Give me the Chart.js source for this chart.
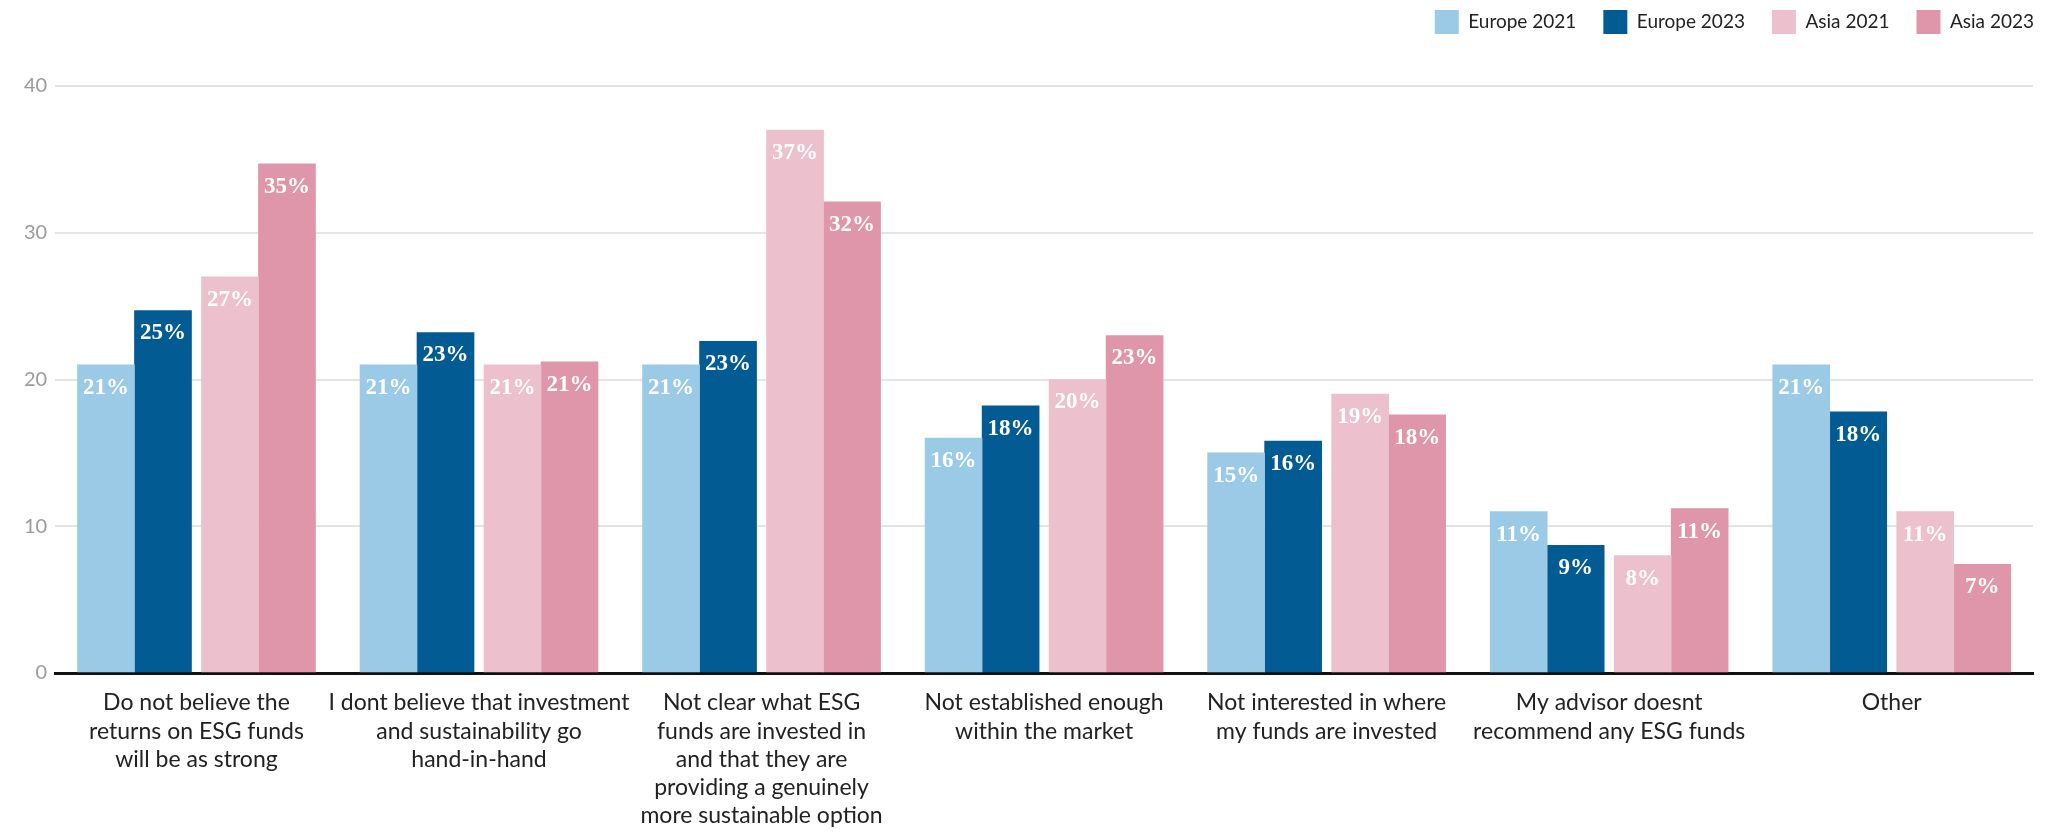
<!DOCTYPE html>
<html>
<head>
<meta charset="utf-8">
<script src="https://cdn.jsdelivr.net/npm/chart.js@4.4.1/dist/chart.umd.min.js"></script>
<style>
  html, body { margin: 0; padding: 0; background: #fff; }
  #wrap { width: 2056px; height: 833px; position: relative; }
</style>
</head>
<body>
<div id="wrap"><canvas id="esgChart"></canvas></div>
<script>
// Reasons for not investing in ESG funds (% of respondents)
const categories = [
  ['Do not believe the', 'returns on ESG funds', 'will be as strong'],
  ['I dont believe that investment', 'and sustainability go', 'hand-in-hand'],
  ['Not clear what ESG', 'funds are invested in', 'and that they are', 'providing a genuinely', 'more sustainable option'],
  ['Not established enough', 'within the market'],
  ['Not interested in where', 'my funds are invested'],
  ['My advisor doesnt', 'recommend any ESG funds'],
  ['Other']
];
const seriesNames = ['Europe 2021', 'Europe 2023', 'Asia 2021', 'Asia 2023'];
const europe2021 = [21, 21, 21, 16, 15, 11, 21];
const europe2023 = [24.7, 23.2, 22.6, 18.2, 15.8, 8.7, 17.8];
const asia2021 = [27, 21, 37, 20, 19, 8, 11];
const asia2023 = [34.7, 21.2, 32.1, 23, 17.6, 11.2, 7.4];
const yTicks = [0, 10, 20, 30, 40];

const colors = ['#9acae6', '#025b92', '#ecc0cd', '#e096aa'];
const FONT = 'Lato';

// bars are 57px wide, Europe pair and Asia pair touch, with a 10px gap between pairs.
// chart.js spaces grouped bars evenly, so give each dataset its own slot size
// (barThickness) and clamp the drawn width with maxBarThickness.
const BAR_W = 57;
const PAIR_GAP = 10;
function slotFor(idx) {
  const inner = PAIR_GAP / 2 + BAR_W / 2;
  const outer = PAIR_GAP / 2 + BAR_W * 1.5;
  const dist = (idx === 0 || idx === 3) ? outer : inner;
  const k = Math.abs(idx - 1.5); // 1.5 or 0.5 slots from centre
  return dist / k;
}

const allSeries = [europe2021, europe2023, asia2021, asia2023];

const datasets = allSeries.map((data, i) => ({
  label: seriesNames[i],
  data: data,
  backgroundColor: colors[i],
  borderWidth: 0,
  barThickness: slotFor(i),
  maxBarThickness: BAR_W
}));

// white rounded % labels inside the top of each bar
const valueLabels = {
  id: 'valueLabels',
  afterDatasetsDraw(chart) {
    const ctx = chart.ctx;
    ctx.save();
    ctx.fillStyle = '#ffffff';
    ctx.font = 'bold 23px "Liberation Serif"';
    ctx.textAlign = 'center';
    ctx.textBaseline = 'middle';
    chart.data.datasets.forEach((ds, di) => {
      const meta = chart.getDatasetMeta(di);
      meta.data.forEach((bar, j) => {
        ctx.fillText(Math.round(ds.data[j]) + '%', bar.x, bar.y + 23);
      });
    });
    ctx.restore();
  }
};

// extra room under the legend
const legendGap = {
  id: 'legendGap',
  beforeInit(chart) {
    const fit = chart.legend.fit;
    chart.legend.fit = function () {
      fit.bind(chart.legend)();
      this.height += 42;
    };
  }
};

new Chart(document.getElementById('esgChart'), {
  type: 'bar',
  data: { labels: categories, datasets: datasets },
  plugins: [valueLabels, legendGap],
  options: {
    responsive: true,
    maintainAspectRatio: false,
    animation: false,
    layout: { padding: { left: 16, right: -5, top: -17, bottom: 0 } },
    plugins: {
      tooltip: { enabled: false },
      legend: {
        position: 'top',
        align: 'end',
        labels: {
          boxWidth: 24,
          boxHeight: 24,
          padding: 27,
          color: '#222',
          font: { family: FONT, size: 19 }
        }
      }
    },
    scales: {
      x: {
        afterFit: axis => { axis.height = 160; },
        grid: { display: false, drawTicks: false },
        border: { display: true, color: '#111', width: 3 },
        ticks: {
          autoSkip: false,
          maxRotation: 0,
          color: '#222',
          padding: 16,
          font: { family: FONT, size: 23, lineHeight: 1.22 }
        }
      },
      y: {
        min: 0,
        max: 40,
        afterBuildTicks: axis => { axis.ticks = yTicks.map(v => ({ value: v })); },
        border: { display: false },
        grid: {
          drawTicks: false,
          lineWidth: 2,
          color: ctx => ctx.tick && ctx.tick.value === 0 ? 'rgba(0,0,0,0)' : '#e4e4e4'
        },
        ticks: {
          color: '#9b9b9b',
          padding: 8,
          font: { family: FONT, size: 20 }
        }
      },
      // empty strip on the right so the plot stops short of the edge
      yRight: {
        position: 'right',
        afterFit: axis => { axis.width = 28; },
        grid: { display: false, drawTicks: false },
        border: { display: false },
        ticks: { display: false }
      }
    }
  }
});
</script>
</body>
</html>
